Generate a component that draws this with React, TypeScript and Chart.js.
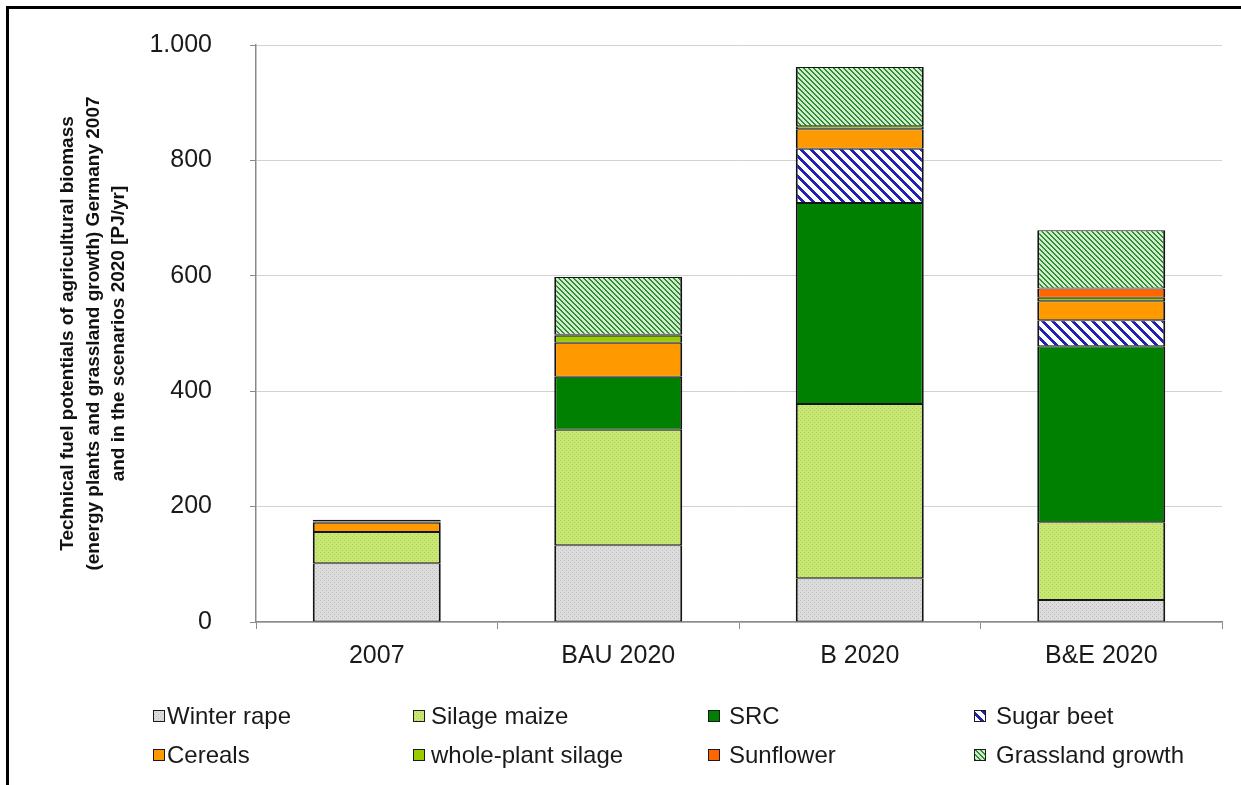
import React, { useEffect, useRef } from 'react';
import { Chart, registerables } from 'chart.js';

Chart.register(...registerables);

// ---- data ----
const categories = ['2007', 'BAU 2020', 'B 2020', 'B&E 2020'];
const seriesNames = [
  'Winter rape',
  'Silage maize',
  'SRC',
  'Sugar beet',
  'Cereals',
  'whole-plant silage',
  'Sunflower',
  'Grassland growth',
];
const winterRape = [102, 133, 76, 38];
const silageMaize = [54, 200, 302, 135];
const src = [0, 92, 348, 305];
const sugarBeet = [0, 0, 94, 45];
const cereals = [16, 59, 34, 33];
const wholePlantSilage = [2, 12, 5, 6];
const sunflower = [3, 2, 0, 16];
const grassland = [0, 100, 103, 101];
const yMin = 0;
const yMax = 1000;
const yStep = 200;
const yTitle = [
  'Technical fuel potentials of agricultural biomass',
  '(energy plants and grassland growth) Germany 2007',
  'and in the scenarios 2020 [PJ/yr]',
];

const FONT = '"Liberation Sans", Arial, Helvetica, sans-serif';

function tile(n: number, color: (x: number, y: number) => string): CanvasPattern | string {
  const c = document.createElement('canvas');
  c.width = n;
  c.height = n;
  const g = c.getContext('2d');
  if (!g) return color(0, 0);
  for (let y = 0; y < n; y++) {
    for (let x = 0; x < n; x++) {
      g.fillStyle = color(x, y);
      g.fillRect(x, y, 1, 1);
    }
  }
  return g.createPattern(c, 'repeat') || color(0, 0);
}

function stripes(n: number, w: number, fg: string, bg: string) {
  return tile(n, (x, y) => ((((x - y) % n) + n) % n < w ? fg : bg));
}

function dots(base: string, dot: string) {
  return tile(4, (x, y) => ((x === 0 && y === 0) || (x === 2 && y === 2) ? dot : base));
}

function fmt(v: number): string {
  return String(Math.round(v)).replace(/\B(?=(\d{3})+(?!\d))/g, '.');
}

const legendGrid = {
  id: 'legendGrid',
  afterDraw(chart: any) {
    const ctx: CanvasRenderingContext2D = chart.ctx;
    const colX = [153, 413, 708, 974];
    const textOff = [14, 18, 21, 22];
    const rowY = [716, 755];
    const box = 12;
    ctx.save();
    ctx.font = `24px ${FONT}`;
    ctx.textBaseline = 'middle';
    ctx.textAlign = 'left';
    chart.data.datasets.forEach((ds: any, i: number) => {
      const col = i % 4;
      const row = Math.floor(i / 4);
      const x = colX[col];
      const y = rowY[row];
      ctx.fillStyle = ds.backgroundColor;
      ctx.fillRect(x, y - box / 2, box, box);
      ctx.strokeStyle = '#1a1a1a';
      ctx.lineWidth = 1;
      ctx.strokeRect(x + 0.5, y - box / 2 + 0.5, box - 1, box - 1);
      ctx.fillStyle = '#1a1a1a';
      ctx.fillText(ds.label, x + textOff[col], y + 1);
    });
    ctx.restore();
  },
};

export default function App() {
  const ref = useRef<HTMLCanvasElement | null>(null);

  useEffect(() => {
    if (!ref.current) return;
    const fills: any[] = [
      dots('#dcdcdc', '#bcbcbc'),
      dots('#c8e774', '#a6cf4c'),
      '#008000',
      stripes(10, 4, '#2222b4', '#ffffff'),
      '#ff9900',
      '#99cc00',
      '#ff6600',
      stripes(5, 2, '#2f8f2f', '#d2ecd2'),
    ];
    const values = [winterRape, silageMaize, src, sugarBeet, cereals, wholePlantSilage, sunflower, grassland];
    const datasets = values.map((vals, i) => ({
      label: seriesNames[i],
      data: vals,
      backgroundColor: fills[i],
      borderColor: '#141414',
      borderWidth: { top: 1, bottom: 1, left: 2, right: 2 },
      borderSkipped: false as any,
      categoryPercentage: 1,
      barPercentage: 0.53,
    }));

    const chart = new Chart(ref.current, {
      type: 'bar',
      data: { labels: categories, datasets },
      plugins: [legendGrid],
      options: {
        responsive: false,
        animation: false,
        devicePixelRatio: 1,
        layout: { padding: { left: 0, top: 45, right: 19, bottom: 0 } },
        plugins: {
          legend: { display: false },
          tooltip: { enabled: false },
          title: { display: false },
        },
        scales: {
          x: {
            stacked: true,
            afterFit: (s: any) => {
              s.height = 163;
            },
            grid: {
              display: true,
              drawOnChartArea: false,
              offset: true,
              tickLength: 7,
              color: '#8a8a8a',
              tickColor: '#8a8a8a',
            },
            border: { display: true, color: '#8a8a8a', width: 1.5 },
            ticks: {
              color: '#1a1a1a',
              font: { family: FONT, size: 25 },
              padding: 12,
              maxRotation: 0,
            },
          },
          y: {
            stacked: true,
            min: yMin,
            max: yMax,
            afterFit: (s: any) => {
              s.width = 256;
              s.paddingTop = 0;
              s.paddingBottom = 0;
            },
            ticks: {
              stepSize: yStep,
              color: '#1a1a1a',
              font: { family: FONT, size: 25 },
              padding: 38,
              callback: (v: any) => fmt(Number(v)),
            },
            grid: {
              color: '#d2d2d2',
              tickColor: '#8a8a8a',
              tickLength: 6,
              lineWidth: 1,
            },
            border: { display: true, color: '#8a8a8a', width: 1.5 },
            title: {
              display: true,
              text: yTitle,
              color: '#111',
              font: { family: FONT, size: 19, weight: 'bold', lineHeight: 1.35 },
              padding: { top: 55, bottom: 0 },
            },
          },
        },
      },
    });
    return () => chart.destroy();
  }, []);

  return (
    <div style={{ position: 'fixed', left: 0, top: 0, width: 1241, height: 785, background: '#fff', overflow: 'hidden' }}>
      <canvas ref={ref} width={1241} height={785} style={{ position: 'absolute', left: 0, top: 0, width: 1241, height: 785 }} />
      <div
        style={{
          position: 'absolute',
          left: 6,
          top: 6,
          width: 1260,
          height: 800,
          borderTop: '3px solid #000',
          borderLeft: '3px solid #000',
          pointerEvents: 'none',
        }}
      />
    </div>
  );
}
